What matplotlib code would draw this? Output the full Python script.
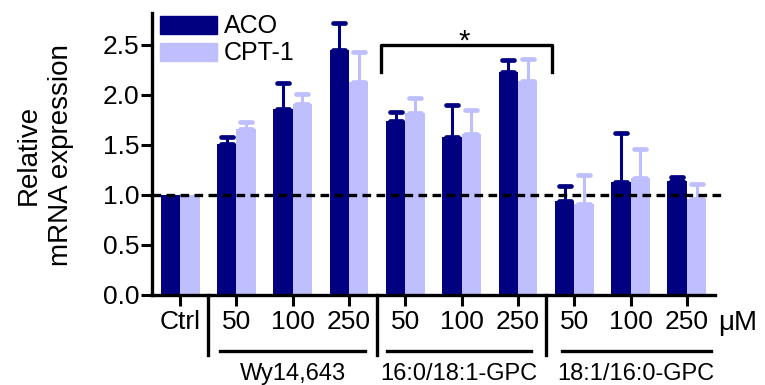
import matplotlib
matplotlib.use("Agg")
import matplotlib.pyplot as plt
import numpy as np
from matplotlib.patches import Patch
from matplotlib.markers import MarkerStyle
from matplotlib.transforms import blended_transform_factory

plt.rcParams['font.family'] = ['Liberation Sans', 'DejaVu Sans']

tick_labels = ["Ctrl", "50", "100", "250", "50", "100", "250", "50", "100", "250"]
groups = ["Wy14,643", "16:0/18:1-GPC", "18:1/16:0-GPC"]
series = ["ACO", "CPT-1"]
aco = [1.00, 1.51, 1.86, 2.45, 1.74, 1.58, 2.23, 0.94, 1.13, 1.14]
aco_err = [0.00, 0.07, 0.26, 0.27, 0.09, 0.32, 0.12, 0.15, 0.49, 0.04]
cpt = [1.00, 1.66, 1.91, 2.13, 1.82, 1.61, 2.14, 0.91, 1.17, 0.96]
cpt_err = [0.00, 0.07, 0.10, 0.30, 0.15, 0.24, 0.22, 0.29, 0.29, 0.15]

c_aco = "#000080"
c_cpt = "#BFBFFF"

fig = plt.figure(figsize=(7.65, 3.85), dpi=100)
ax = fig.add_axes([152/765, 1-295/385, (715-152)/765, (295-13)/385])

x = np.arange(len(tick_labels))
w = 0.345
ax.bar(x - w/2, aco, w, color=c_aco, zorder=2)
ax.bar(x + w/2, cpt, w, color=c_cpt, zorder=2)

for xs, vals, errs, col in [(x - w/2, aco, aco_err, c_aco), (x + w/2, cpt, cpt_err, c_cpt)]:
    idx = [i for i in range(len(vals)) if errs[i] > 0]
    xs_ = [xs[i] for i in idx]
    v_ = [vals[i] for i in idx]
    e_ = [errs[i] for i in idx]
    _, caps, _ = ax.errorbar(xs_, v_, yerr=[np.zeros(len(e_)), e_], fmt='none', ecolor=col,
                             elinewidth=2.2, capsize=4.3, capthick=3.4, zorder=3)
    for cp in caps:
        cp.set_marker(MarkerStyle('_', capstyle='round'))

ax.set_xlim(-0.5, 9.5)
ax.set_ylim(0, 2.82)
ax.set_yticks([0.0, 0.5, 1.0, 1.5, 2.0, 2.5])
ax.set_yticklabels(["0.0", "0.5", "1.0", "1.5", "2.0", "2.5"])
ax.set_xticks(x)
ax.set_xticklabels(tick_labels)
ax.tick_params(axis='both', labelsize=19, width=2.2, length=8, direction='out', color='black')
ax.tick_params(axis='x', pad=3)
ax.tick_params(axis='y', pad=1)
for s in ['top', 'right']:
    ax.spines[s].set_visible(False)
for s in ['left', 'bottom']:
    ax.spines[s].set_linewidth(2.4)

# dashed reference line at 1.0
ax.plot([-0.5, 9.63], [1.0, 1.0], color='black', lw=2.4, linestyle=(0, (2.6, 1.6)),
        clip_on=False, zorder=4)

# significance bracket
ax.plot([3.56, 3.56, 6.6, 6.6], [2.23, 2.5, 2.5, 2.23], color='black', lw=2.4,
        clip_on=False, zorder=4)
ax.text(5.05, 2.53, "*", ha='center', va='center', fontsize=21)

# group annotations below the axis
tr = blended_transform_factory(ax.transData, ax.transAxes)
for sx in [0.5, 3.5, 6.5]:
    ax.plot([sx, sx], [0, -0.213], color='black', lw=2.4, transform=tr, clip_on=False)
for (a, b) in [(0.71, 3.28), (3.67, 6.24), (6.79, 9.43)]:
    ax.plot([a, b], [-0.199, -0.199], color='black', lw=2.4, transform=tr, clip_on=False)
for gx, g in zip([2.0, 4.95, 8.1], groups):
    ax.text(gx, -0.28, g, transform=tr, ha='center', va='center', fontsize=17)
ax.text(9.55, -0.10, "\u03bcM", transform=tr, ha='left', va='center', fontsize=20)

# y label
fig.text(45/765, 1-155/385, "Relative\nmRNA expression", rotation=90, ha='center', va='center',
         fontsize=20, multialignment='center', linespacing=1.3)

handles = [Patch(color=c_aco), Patch(color=c_cpt)]
ax.legend(handles, series, loc='upper left', bbox_to_anchor=(0.014, 0.995), frameon=False,
          fontsize=18, handlelength=2.3, handleheight=0.72, labelspacing=0.12,
          handletextpad=0.25, borderpad=0, borderaxespad=0)

fig.savefig("out.png", dpi=100)
